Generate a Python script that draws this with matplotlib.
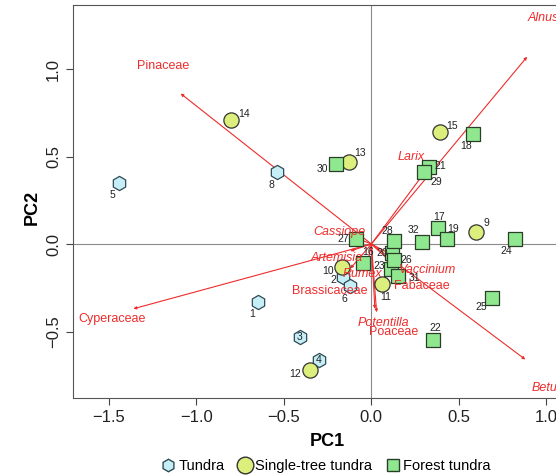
import matplotlib.pyplot as plt
from matplotlib.lines import Line2D

plt.rcParams['font.family'] = ['Liberation Sans', 'DejaVu Sans']

# site scores
tundra_ids = [1, 2, 3, 4, 5, 6, 8]
tundra_pc1 = [-0.65, -0.16, -0.41, -0.30, -1.44, -0.12, -0.54]
tundra_pc2 = [-0.33, -0.19, -0.53, -0.66, 0.35, -0.24, 0.41]

single_ids = [9, 10, 11, 12, 13, 14, 15]
single_pc1 = [0.60, -0.17, 0.06, -0.35, -0.13, -0.80, 0.39]
single_pc2 = [0.07, -0.13, -0.23, -0.72, 0.47, 0.71, 0.64]

forest_ids = [16, 17, 18, 19, 20, 21, 22, 23, 24, 25, 26, 27, 28, 29, 30, 31, 32]
forest_pc1 = [-0.05, 0.38, 0.58, 0.43, 0.12, 0.33, 0.35, 0.11, 0.82, 0.69,
              0.13, -0.09, 0.13, 0.30, -0.20, 0.15, 0.29]
forest_pc2 = [-0.11, 0.09, 0.63, 0.03, -0.05, 0.44, -0.55, -0.14, 0.03, -0.31,
              -0.09, 0.03, 0.02, 0.41, 0.46, -0.18, 0.01]

# pollen taxa loadings (arrow tips) and label positions
taxa = ['Pinaceae', 'Alnus', 'Cyperaceae', 'Betula', 'Larix', 'Cassiope',
        'Artemisia', 'Rumex', 'Vaccinium', 'Fabaceae', 'Brassicaceae',
        'Potentilla', 'Poaceae']
taxa_italic = [False, True, False, True, True, True,
               True, True, True, False, False, True, False]
load_pc1 = [-1.09, 0.89, -1.36, 0.88, 0.29, -0.10, -0.12, -0.02, 0.17, 0.14,
            -0.12, 0.03, 0.02]
load_pc2 = [0.86, 1.07, -0.37, -0.66, 0.39, 0.04, -0.04, -0.10, -0.09, -0.13,
            -0.14, -0.39, -0.37]
lab_pc1 = [-1.19, 0.98, -1.48, 1.02, 0.23, -0.18, -0.20, -0.05, 0.32, 0.29,
           -0.24, 0.07, 0.13]
lab_pc2 = [1.02, 1.29, -0.43, -0.82, 0.50, 0.07, -0.08, -0.17, -0.15, -0.24,
           -0.27, -0.45, -0.50]

# label offsets (points) for site numbers
offsets = {1: (-4, -9), 2: (-7, -2), 3: (0, 0), 4: (0, 0), 5: (-5, -9),
           6: (-4, -9), 8: (-4, -9), 9: (7, 6), 10: (-10, -3), 11: (3, -9),
           12: (-11, -3), 13: (8, 6), 14: (9, 4), 15: (9, 4), 16: (4, 8),
           17: (1, 8), 18: (-5, -9), 19: (5, 7), 20: (-7, 0), 21: (8, 1),
           22: (2, 9), 23: (-8, 2), 24: (-6, -9), 25: (-8, -6), 26: (9, 0),
           27: (-9, 0), 28: (-5, 7), 29: (9, -7), 30: (-10, -4), 31: (12, -2),
           32: (-6, 9)}

red = '#ee2c2c'
fig = plt.figure(figsize=(5.56, 4.76), dpi=100)
ax = fig.add_axes([73 / 556, 78 / 476, 508 / 556, 393 / 476])
ax.set_xlim(-1.705, 1.198)
ax.set_ylim(-0.88, 1.366)

ax.axhline(0, color='#8a8a8a', lw=0.8, zorder=1)
ax.axvline(0, color='#8a8a8a', lw=0.8, zorder=1)

for x, y in zip(load_pc1, load_pc2):
    ax.annotate('', xy=(x, y), xytext=(0, 0),
                arrowprops=dict(arrowstyle='-|>', color=red, lw=0.8,
                                mutation_scale=4, shrinkA=0, shrinkB=0),
                zorder=2)

ax.scatter(tundra_pc1, tundra_pc2, marker='h', s=105, facecolor='#c6eef6',
           edgecolor='#2f4a55', lw=0.9, zorder=3)
ax.scatter(single_pc1, single_pc2, marker='o', s=120, facecolor='#dcef7c',
           edgecolor='#333333', lw=0.9, zorder=3)
ax.scatter(forest_pc1, forest_pc2, marker='s', s=90, facecolor='#8fe88f',
           edgecolor='#2a3f2a', lw=0.9, zorder=3)

for ids, xs, ys in [(tundra_ids, tundra_pc1, tundra_pc2),
                    (single_ids, single_pc1, single_pc2),
                    (forest_ids, forest_pc1, forest_pc2)]:
    for i, x, y in zip(ids, xs, ys):
        ax.annotate(str(i), (x, y), xytext=offsets[i], textcoords='offset points',
                    ha='center', va='center', fontsize=7.5, color='#222222',
                    zorder=5)

for name, it, x, y in zip(taxa, taxa_italic, lab_pc1, lab_pc2):
    ax.text(x, y, name, color=red, fontsize=9, ha='center', va='center',
            style='italic' if it else 'normal', zorder=4, clip_on=False)

ax.set_xticks([-1.5, -1.0, -0.5, 0.0, 0.5, 1.0])
ax.set_yticks([-0.5, 0.0, 0.5, 1.0])
ax.tick_params(labelsize=12, length=5, color='#444444', labelcolor='#222222')
for lab in ax.get_yticklabels():
    lab.set_rotation(90)
    lab.set_va('center')
for sp in ax.spines.values():
    sp.set_color('#555555')

fig.text(327 / 556, 1 - 442 / 476, 'PC1', fontsize=13, fontweight='bold',
         ha='center', va='center')
fig.text(32 / 556, 1 - 207 / 476, 'PC2', fontsize=13, fontweight='bold',
         ha='center', va='center', rotation=90)

handles = [
    Line2D([], [], ls='', marker='h', ms=9, mfc='#c6eef6', mec='#2f4a55'),
    Line2D([], [], ls='', marker='o', ms=12, mfc='#dcef7c', mec='#333333'),
    Line2D([], [], ls='', marker='s', ms=9, mfc='#8fe88f', mec='#2a3f2a'),
]
fig.legend(handles, ['Tundra', 'Single-tree tundra', 'Forest tundra'],
           loc='center', bbox_to_anchor=(325 / 556, 1 - 466 / 476), ncol=3,
           frameon=False, fontsize=10.5, handletextpad=0.1, columnspacing=0.8,
           handlelength=1.2)

fig.savefig('out.png', dpi=100)
